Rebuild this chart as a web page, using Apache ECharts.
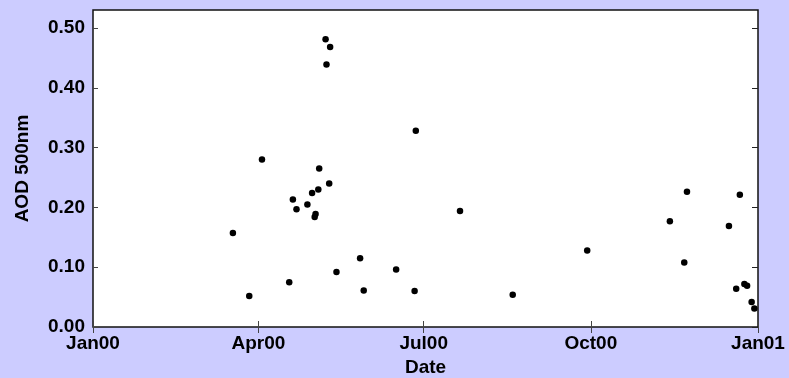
<!DOCTYPE html>
<html>
<head>
<meta charset="utf-8">
<script src="https://cdn.jsdelivr.net/npm/echarts@6/dist/echarts.min.js"></script>
<style>
  html, body { margin: 0; padding: 0; background: #ccccff; }
  #chart { width: 789px; height: 378px; }
</style>
</head>
<body>
<div id="chart"></div>
<script>
// Observation dates (local time) and aerosol optical depth at 500 nm
const obsDates = [
  '2000-03-18', '2000-03-27', '2000-04-03', '2000-04-18', '2000-04-20',
  '2000-04-22', '2000-04-28', '2000-04-30 14:00', '2000-05-02', '2000-05-02 12:00',
  '2000-05-04', '2000-05-04 12:00', '2000-05-08', '2000-05-08 12:00', '2000-05-10 12:00',
  '2000-05-10', '2000-05-14', '2000-05-27', '2000-05-29', '2000-06-15 20:00',
  '2000-06-26 16:00', '2000-06-26', '2000-07-21', '2000-08-19', '2000-09-29',
  '2000-11-13 12:00', '2000-11-22 22:00', '2000-11-21 10:00', '2000-12-16', '2000-12-22',
  '2000-12-20', '2000-12-24 12:00', '2000-12-26', '2000-12-28 12:00', '2000-12-30'
];
const aod500 = [
  0.157, 0.052, 0.280, 0.075, 0.213,
  0.197, 0.205, 0.224, 0.184, 0.189,
  0.230, 0.265, 0.481, 0.439, 0.468,
  0.240, 0.092, 0.115, 0.061, 0.096,
  0.328, 0.060, 0.194, 0.054, 0.128,
  0.177, 0.226, 0.108, 0.169, 0.221,
  0.064, 0.072, 0.069, 0.042, 0.031
];

// Axis ticks
const xTickDates = ['2000-01-01', '2000-04-01', '2000-07-01', '2000-10-01', '2001-01-01'];
const xTickLabels = ['Jan00', 'Apr00', 'Jul00', 'Oct00', 'Jan01'];
const yTicks = [0, 0.1, 0.2, 0.3, 0.4, 0.5];
const yMax = 0.53;

function toTime(s) {
  const parts = s.split(' ');
  const [y, m, d] = parts[0].split('-').map(Number);
  const [hh, mm] = (parts[1] || '0:0').split(':').map(Number);
  return new Date(y, m - 1, d, hh, mm).getTime();
}

const xTickTimes = xTickDates.map(toTime);
const points = obsDates.map((d, i) => [toTime(d), aod500[i]]);

const font = { fontFamily: 'Liberation Sans, Arial, sans-serif', fontWeight: 'bold', fontSize: 19, color: '#000' };

function xAxisOf(pos, withLabels) {
  const ax = {
    type: 'value',
    position: pos,
    min: xTickTimes[0],
    max: xTickTimes[xTickTimes.length - 1],
    axisLine: { show: false },
    splitLine: { show: false },
    axisTick: { inside: true, length: 6, customValues: xTickTimes, lineStyle: { color: '#444' } },
    axisLabel: { show: false }
  };
  if (withLabels) {
    ax.name = 'Date';
    ax.nameLocation = 'middle';
    ax.nameGap = 30;
    ax.nameTextStyle = font;
    ax.axisLabel = Object.assign({
      show: true,
      margin: 7,
      customValues: xTickTimes,
      formatter: v => xTickLabels[xTickTimes.indexOf(v)] || ''
    }, font);
  }
  return ax;
}

const chart = echarts.init(document.getElementById('chart'), null, { renderer: 'canvas' });
chart.setOption({
  backgroundColor: '#ccccff',
  animation: false,
  grid: {
    left: 93, right: 31, top: 10, bottom: 51,
    containLabel: false,
    outerBoundsMode: 'none',
    show: true, backgroundColor: '#ffffff', borderColor: '#111', borderWidth: 1.5
  },
  xAxis: [xAxisOf('bottom', true), xAxisOf('top', false)],
  yAxis: [{
    type: 'value',
    position: 'left',
    min: 0,
    max: yMax,
    name: 'AOD 500nm',
    nameLocation: 'middle',
    nameGap: 61,
    nameTextStyle: font,
    axisLine: { show: false },
    splitLine: { show: false },
    axisTick: { inside: true, length: 5, customValues: yTicks, lineStyle: { color: '#444' } },
    axisLabel: Object.assign({
      margin: 8,
      customValues: yTicks,
      formatter: v => v.toFixed(2)
    }, font)
  }, {
    type: 'value',
    position: 'right',
    min: 0,
    max: yMax,
    axisLine: { show: false },
    splitLine: { show: false },
    axisTick: { inside: true, length: 6, customValues: yTicks, lineStyle: { color: '#222' } },
    axisLabel: { show: false }
  }],
  series: [{
    type: 'scatter',
    xAxisIndex: 0,
    yAxisIndex: 0,
    data: points,
    symbol: 'circle',
    symbolSize: 6.5,
    itemStyle: { color: '#000', opacity: 1 }
  }]
});
</script>
</body>
</html>
